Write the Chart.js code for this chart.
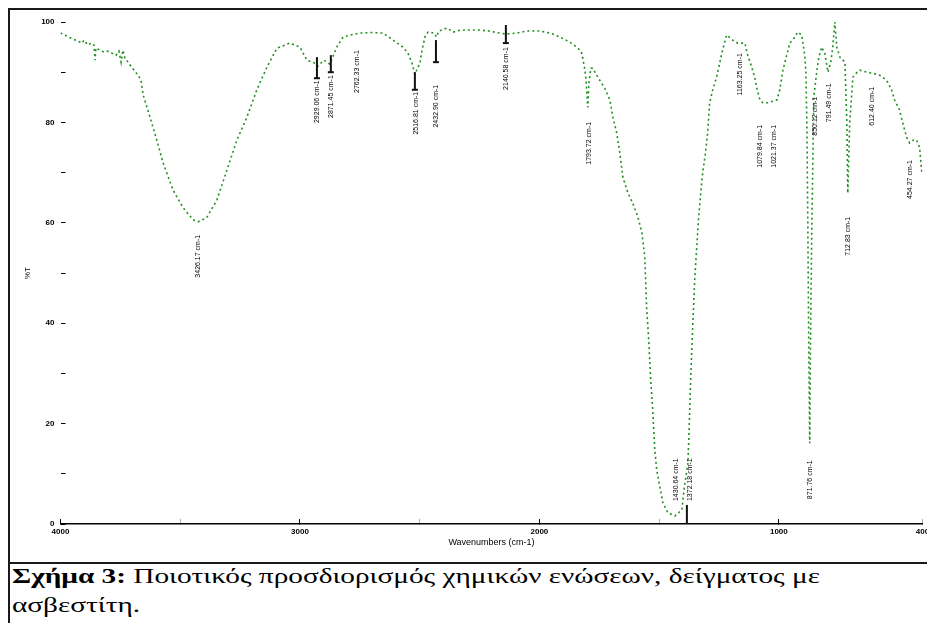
<!DOCTYPE html>
<html lang="el">
<head>
<meta charset="utf-8">
<title>Σχήμα 3</title>
<script src="https://cdn.jsdelivr.net/npm/chart.js@4.4.1/dist/chart.umd.min.js"></script>
<style>
  html, body { margin: 0; padding: 0; background: #fff; overflow: hidden; }
  #frame { position: absolute; left: 8px; top: 8px; width: 940px; height: 640px; border-left: 2px solid #1a1a1a; border-top: 2px solid #1a1a1a; }
  #sep { position: absolute; left: 8px; top: 562px; width: 940px; height: 2px; background: #1a1a1a; }
  #plot { position: absolute; left: 9px; top: 10px; width: 918px; height: 551px; }
  #caption { position: absolute; left: 12px; top: 562px; font-family: "Liberation Serif", "DejaVu Serif", "Times New Roman", serif; font-size: 21px; line-height: 29px; color: #000; white-space: nowrap; transform-origin: 0 0; }
</style>
</head>
<body>
<div id="frame"></div>
<div id="plot"><canvas id="irChart"></canvas></div>
<div id="sep"></div>
<div id="caption"><span id="capLine"><b>Σχήμα 3:</b> Ποιοτικός προσδιορισμός χημικών ενώσεων, δείγματος με</span><br>ασβεστίτη.</div>

<script>
// spectrum (cm-1 / %T)
const wavenumbers = [
    4000, 3973, 3948, 3927, 3910, 3902, 3885, 3873, 3860, 3856, 3852, 3835, 3818, 3802, 3785, 3768,
    3756, 3747, 3739, 3731, 3718, 3706, 3693, 3676, 3664, 3655, 3626, 3598, 3572, 3530, 3488, 3446,
    3426, 3390, 3347, 3305, 3263, 3222, 3180, 3138, 3096, 3042, 3000, 2971, 2937, 2925, 2900, 2875,
    2846, 2820, 2791, 2750, 2700, 2653, 2611, 2570, 2549, 2532, 2520, 2499, 2490, 2478, 2465, 2440,
    2430, 2420, 2386, 2360, 2330, 2250, 2210, 2167, 2140, 2094, 2052, 1998, 1956, 1914, 1873, 1844,
    1831, 1823, 1812, 1806, 1798, 1793, 1785, 1777, 1756, 1727, 1706, 1693, 1677, 1664, 1651, 1630,
    1610, 1589, 1572, 1560, 1552, 1543, 1535, 1527, 1518, 1510, 1497, 1484, 1463, 1434, 1405, 1396,
    1380, 1376, 1368, 1360, 1351, 1343, 1335, 1326, 1318, 1306, 1297, 1289, 1276, 1260, 1247, 1235,
    1218, 1193, 1172, 1142, 1130, 1113, 1100, 1092, 1079, 1067, 1046, 1008, 996, 983, 967, 954,
    933, 921, 904, 891, 887, 883, 879, 875, 871, 867, 862, 854, 842, 833, 821, 808,
    795, 783, 775, 766, 758, 745, 724, 716, 712, 704, 695, 691, 673, 662, 633, 608,
    579, 550, 529, 517, 496, 483, 466, 454, 437, 425, 412, 403
];
const transmittance = [
    97.8, 97.2, 96.6, 96.2, 95.8, 96.4, 95.4, 95.8, 95.4, 92.4, 94.8, 94.4, 94.0, 94.2, 93.8, 93.4,
    94.2, 92.0, 94.4, 92.8, 92.0, 91.2, 90.4, 89.4, 88.4, 85.5, 81.0, 76.5, 72.0, 66.5, 63.0, 60.6,
    60.2, 61.0, 64.5, 70.5, 76.5, 81.0, 86.5, 91.0, 94.8, 95.8, 95.0, 92.4, 91.8, 91.2, 92.4, 91.6,
    95.0, 97.0, 97.4, 97.8, 97.9, 97.8, 96.4, 95.0, 93.8, 91.8, 89.6, 91.8, 94.4, 97.0, 98.0, 97.8,
    97.0, 98.2, 98.8, 98.0, 98.4, 98.4, 98.2, 97.8, 97.6, 97.8, 98.2, 98.2, 97.8, 97.0, 96.0, 95.0,
    94.4, 93.8, 91.0, 89.0, 83.0, 88.0, 90.8, 90.8, 89.0, 86.8, 84.5, 81.0, 77.9, 73.9, 69.0, 65.9,
    63.9, 61.2, 58.0, 53.5, 43.0, 36.3, 28.7, 23.0, 14.7, 10.8, 7.4, 4.2, 2.2, 1.6, 2.8, 6.8,
    12.0, 17.0, 29.0, 39.0, 49.0, 55.0, 61.0, 66.0, 70.0, 74.0, 78.0, 83.9, 86.5, 89.0, 91.8, 94.4,
    97.4, 96.4, 95.8, 95.8, 93.4, 91.0, 88.8, 86.8, 84.5, 83.9, 83.9, 84.5, 86.5, 90.4, 93.4, 95.8,
    97.0, 98.0, 97.4, 93.0, 90.0, 80.0, 60.0, 35.0, 16.1, 40.0, 60.0, 85.0, 90.0, 93.0, 95.0, 93.8,
    90.0, 92.0, 95.0, 100.0, 95.0, 93.0, 92.0, 80.0, 65.9, 80.0, 86.0, 89.0, 90.0, 90.4, 90.0, 89.8,
    89.4, 88.4, 86.5, 84.5, 82.5, 80.0, 77.0, 75.9, 76.5, 76.5, 75.0, 70.0
];

// axis ticks
const xTicks = [4000, 3500, 3000, 2500, 2000, 1500, 1000, 400];
const xTickLabels = ['4000', '', '3000', '', '2000', '', '1000', '400'];
const yTickLabels = { 0: '0', 20: '20', 40: '40', 60: '60', 80: '80', 100: '100' };

// peak annotations: label position (cm-1, %T where text starts) and text
const labelWn = [3426, 2929, 2871, 2762, 2516, 2432, 2140, 1793, 1430, 1372, 1163, 1079, 1021, 850, 791, 871, 712, 612, 454];
const labelTop = [57.6, 88.4, 89.4, 94.4, 86.1, 87.5, 95.0, 80.1, 13.1, 13.1, 93.8, 79.5, 79.5, 85.1, 87.8, 12.7, 61.2, 87.1, 72.5];
const labelText = [
    '3426.17 cm-1', '2929.06 cm-1', '2871.45 cm-1', '2762.33 cm-1', '2516.81 cm-1', '2432.90 cm-1',
    '2140.58 cm-1', '1793.72 cm-1', '1430.64 cm-1', '1372.18 cm-1', '1163.25 cm-1', '1079.84 cm-1',
    '1021.37 cm-1', '850.12 cm-1', '791.49 cm-1', '871.76 cm-1', '712.83 cm-1', '612.40 cm-1', '454.27 cm-1'
];
// peak pick markers (cm-1, %T from / to)
const markerWn = [2929, 2871, 2520, 2432, 2140, 1384];
const markerFrom = [93.0, 93.4, 90.0, 96.4, 99.4, 3.8];
const markerTo = [88.8, 90.0, 86.5, 92.0, 95.8, 0];

const peakNotes = {
    id: 'peakNotes',
    afterDatasetsDraw(chart) {
        const ctx = chart.ctx;
        const x = chart.scales.x;
        const y = chart.scales.y;
        ctx.save();
        ctx.strokeStyle = '#111';
        ctx.lineWidth = 2;
        markerWn.forEach(function(wn, i) {
            const px = x.getPixelForValue(wn);
            const yBottom = y.getPixelForValue(markerTo[i]);
            ctx.beginPath();
            ctx.moveTo(px, y.getPixelForValue(markerFrom[i]));
            ctx.lineTo(px, yBottom);
            ctx.stroke();
            if (markerTo[i] > 0) {
                ctx.beginPath();
                ctx.moveTo(px - 3, yBottom);
                ctx.lineTo(px + 3, yBottom);
                ctx.stroke();
            }
        });
        ctx.font = '7px "Liberation Sans", Arial, sans-serif';
        ctx.fillStyle = '#000';
        ctx.textAlign = 'right';
        ctx.textBaseline = 'middle';
        labelWn.forEach(function(wn, i) {
            ctx.save();
            ctx.translate(x.getPixelForValue(wn), y.getPixelForValue(labelTop[i]));
            ctx.rotate(-Math.PI / 2);
            ctx.fillText(labelText[i], 0, 0);
            ctx.restore();
        });
        ctx.restore();
    }
};

new Chart(document.getElementById('irChart'), {
    type: 'line',
    data: {
        datasets: [{
            data: wavenumbers.map(function(wn, i) { return { x: wn, y: transmittance[i] }; }),
            borderColor: '#1f8f1f',
            borderWidth: 1.6,
            borderDash: [2, 3],
            pointRadius: 0,
            tension: 0,
            fill: false
        }]
    },
    options: {
        responsive: true,
        maintainAspectRatio: false,
        animation: false,
        layout: { padding: { top: 12, right: 4.5, left: 0, bottom: 0 } },
        plugins: { legend: { display: false }, tooltip: { enabled: false } },
        scales: {
            x: {
                type: 'linear',
                reverse: true,
                min: 400,
                max: 4000,
                afterBuildTicks: function(scale) {
                    scale.ticks = xTicks.map(function(v) { return { value: v }; });
                },
                afterFit: function(scale) {
                    scale.height = 37;
                    scale.paddingLeft = 0;
                    scale.paddingRight = 0;
                },
                border: { display: true, color: '#000', width: 1.5 },
                grid: {
                    drawOnChartArea: false,
                    tickLength: -5,
                    tickColor: function(c) { return c.tick && c.tick.value % 1000 === 0 ? '#000' : '#aaa'; }
                },
                ticks: {
                    autoSkip: false,
                    maxRotation: 0,
                    padding: 8,
                    color: '#000',
                    font: { family: '"Liberation Sans", Arial, sans-serif', size: 8, weight: 'bold' },
                    callback: function(value) { return xTickLabels[xTicks.indexOf(value)]; }
                },
                title: {
                    display: true,
                    text: 'Wavenumbers (cm-1)',
                    color: '#000',
                    font: { family: '"Liberation Sans", Arial, sans-serif', size: 9 },
                    padding: { top: 0, bottom: 12.6 }
                }
            },
            y: {
                min: 0,
                max: 100,
                afterFit: function(scale) {
                    scale.width = 51.5;
                    scale.paddingTop = 0;
                    scale.paddingBottom = 0;
                },
                border: { display: false },
                grid: { drawOnChartArea: false, tickLength: -5, tickColor: '#000' },
                ticks: {
                    stepSize: 10,
                    padding: 11,
                    color: '#000',
                    font: { family: '"Liberation Sans", Arial, sans-serif', size: 8, weight: 'bold' },
                    callback: function(value) { return yTickLabels[value] || ''; }
                },
                title: {
                    display: true,
                    text: '%T',
                    color: '#000',
                    font: { family: '"Liberation Sans", Arial, sans-serif', size: 8 },
                    padding: { top: 14, bottom: 0 }
                }
            }
        }
    },
    plugins: [peakNotes]
});

// the caption in the picture is stretched sideways: first line runs to about x = 820
const caption = document.getElementById('caption');
const lineWidth = document.getElementById('capLine').getBoundingClientRect().width;
caption.style.transform = 'scaleX(' + (808 / lineWidth) + ')';
</script>
</body>
</html>
